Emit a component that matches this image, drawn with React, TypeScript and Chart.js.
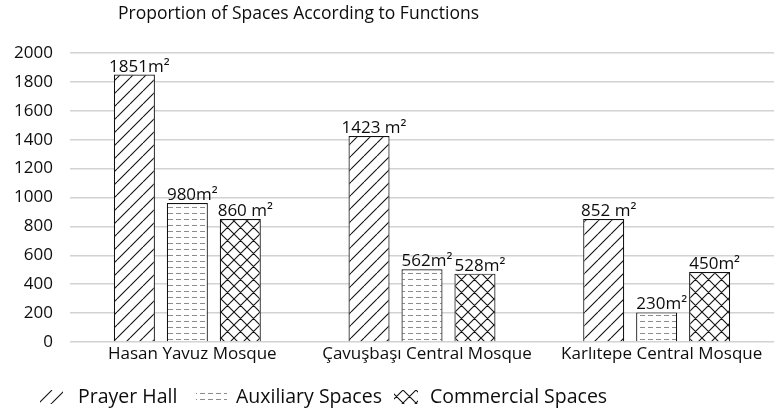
import React, { useEffect, useRef } from "react";
import { Chart, registerables } from "chart.js";

Chart.register(...registerables);

const chartTitle = "Proportion of Spaces According to Functions";
const categories = ["Hasan Yavuz Mosque", "Çavuşbaşı Central Mosque", "Karlıtepe Central Mosque"];
const seriesNames = ["Prayer Hall", "Auxiliary Spaces", "Commercial Spaces"];
// bar heights as drawn in the picture
const prayerHall = [1851, 1425, 851];
const auxiliarySpaces = [962, 503, 205];
const commercialSpaces = [851, 473, 484];
// value labels as printed above the bars
const prayerHallLabels = ["1851m²", "1423 m²", "852 m²"];
const auxiliaryLabels = ["980m²", "562m²", "230m²"];
const commercialLabels = ["860 m²", "528m²", "450m²"];
const yMin = 0;
const yMax = 2000;
const yStep = 200;

const FONT = "'Open Sans', 'Noto Sans', sans-serif";
const TEXT = "#0d0d0d";

function makePattern(kind: string): CanvasPattern | string {
  const c = document.createElement("canvas");
  const ctx = c.getContext("2d");
  if (!ctx) return "#fff";
  if (kind === "dash") {
    c.width = 8;
    c.height = 6;
    ctx.fillStyle = "#fff";
    ctx.fillRect(0, 0, 8, 6);
    ctx.strokeStyle = "#8c8c8c";
    ctx.lineWidth = 1;
    ctx.beginPath();
    ctx.moveTo(0, 3.5);
    ctx.lineTo(5, 3.5);
    ctx.stroke();
  } else {
    const s = 13;
    c.width = s;
    c.height = s;
    ctx.fillStyle = "#fff";
    ctx.fillRect(0, 0, s, s);
    ctx.strokeStyle = "#111";
    ctx.lineWidth = 1.1;
    ctx.beginPath();
    for (const o of [-s, 0, s]) {
      ctx.moveTo(o, s);
      ctx.lineTo(o + s, 0);
      if (kind === "cross") {
        ctx.moveTo(o, 0);
        ctx.lineTo(o + s, s);
      }
    }
    ctx.stroke();
  }
  return ctx.createPattern(c, "repeat") || "#fff";
}

export default function App() {
  const ref = useRef<HTMLCanvasElement | null>(null);

  useEffect(() => {
    if (!ref.current) return;
    const patterns = [makePattern("diag"), makePattern("dash"), makePattern("cross")];
    const values = [prayerHall, auxiliarySpaces, commercialSpaces];
    const labels = [prayerHallLabels, auxiliaryLabels, commercialLabels];

    const titlePlugin = {
      id: "customTitle",
      afterDraw(chart: any) {
        const ctx = chart.ctx;
        ctx.save();
        ctx.font = `17.5px ${FONT}`;
        ctx.fillStyle = TEXT;
        ctx.textAlign = "left";
        ctx.textBaseline = "middle";
        ctx.fillText(chartTitle, 118, 14);
        ctx.restore();
      },
    };

    const valueLabelPlugin = {
      id: "valueLabels",
      afterDatasetsDraw(chart: any) {
        const ctx = chart.ctx;
        ctx.save();
        ctx.font = `17px ${FONT}`;
        ctx.fillStyle = TEXT;
        ctx.textAlign = "center";
        ctx.textBaseline = "alphabetic";
        chart.data.datasets.forEach((_: any, i: number) => {
          const meta = chart.getDatasetMeta(i);
          meta.data.forEach((el: any, j: number) => {
            ctx.fillText(labels[i][j], el.x + 5, el.y - 3);
          });
        });
        ctx.restore();
      },
    };

    const legendPlugin = {
      id: "patternLegend",
      afterDraw(chart: any) {
        const ctx = chart.ctx;
        ctx.save();
        ctx.font = `19.5px ${FONT}`;
        ctx.textAlign = "left";
        ctx.textBaseline = "middle";
        const yc = 397;
        const swX = [40, 196, 394];
        const swW = [23, 31, 24];
        const txtX = [78, 236, 430];
        chart.data.datasets.forEach((ds: any, i: number) => {
          ctx.fillStyle = ds.backgroundColor;
          ctx.fillRect(swX[i], yc - 7, swW[i], 14);
          ctx.fillStyle = TEXT;
          ctx.fillText(ds.label, txtX[i], yc);
        });
        ctx.restore();
      },
    };

    const chart = new Chart(ref.current, {
      type: "bar",
      data: {
        labels: categories,
        datasets: seriesNames.map((name, i) => ({
          label: name,
          data: values[i],
          backgroundColor: patterns[i] as any,
          borderColor: "#111",
          borderWidth: 1.2,
          barPercentage: 0.775,
          categoryPercentage: 0.677,
        })),
      },
      options: {
        responsive: false,
        animation: false,
        devicePixelRatio: 1,
        layout: { padding: { top: 53, left: 0, right: 0, bottom: 44 } },
        plugins: {
          legend: { display: false },
          title: { display: false },
          tooltip: { enabled: false },
        },
        scales: {
          x: {
            grid: { display: false, drawTicks: false },
            border: { display: false },
            ticks: { font: { family: FONT, size: 17 }, color: TEXT, padding: 2, maxRotation: 0, labelOffset: 5 },
            afterFit: (s: any) => {
              s.height = 30;
            },
          },
          y: {
            min: yMin,
            max: yMax,
            ticks: {
              stepSize: yStep,
              font: { family: FONT, size: 17 },
              color: TEXT,
              padding: 17,
              callback: (v: any) => String(v),
            },
            grid: { color: "#d2d2d2", lineWidth: 1.5, drawTicks: false },
            border: { display: false },
            afterFit: (s: any) => {
              s.width = 70;
            },
          },
        },
      },
      plugins: [titlePlugin, valueLabelPlugin, legendPlugin],
    });
    return () => chart.destroy();
  }, []);

  return (
    <div style={{ position: "absolute", left: 0, top: 0, width: 774, height: 416, background: "#fff" }}>
      <canvas ref={ref} width={774} height={416} />
    </div>
  );
}
